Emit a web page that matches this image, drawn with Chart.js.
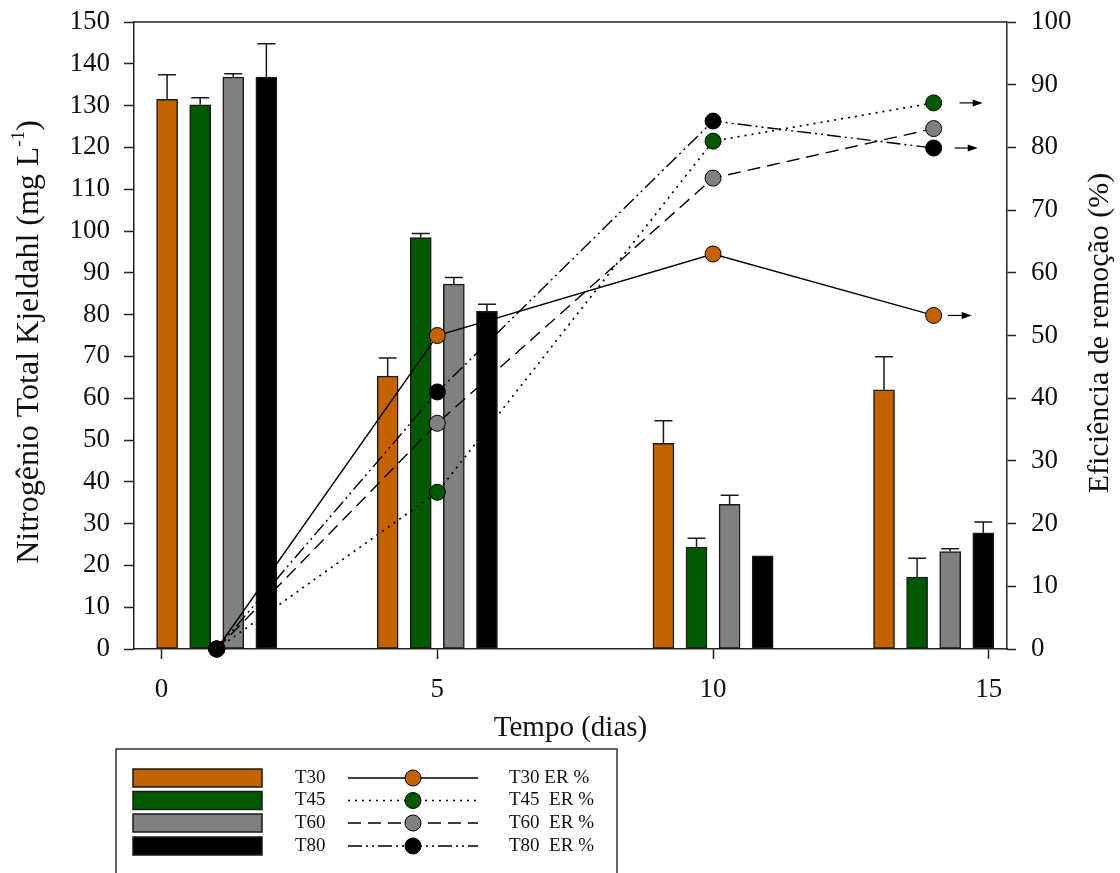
<!DOCTYPE html>
<html>
<head>
<meta charset="utf-8">
<script src="https://cdn.jsdelivr.net/npm/chart.js@4.4.0/dist/chart.umd.min.js"></script>
<style>
  html, body { margin: 0; padding: 0; background: #fff; }
  #wrap { width: 1120px; height: 873px; }
</style>
</head>
<body>
<div id="wrap"><canvas id="chart" width="1120" height="873"></canvas></div>
<script>
const FONT = "'Liberation Serif', 'Times New Roman', serif";

const series = ['T30', 'T45', 'T60', 'T80'];
const fillColors = ['#c46200', '#005800', '#808080', '#000000'];
const dashes = [[], [2, 5], [13, 7], [14, 4, 2, 4, 2, 4]];

// bar positions on the time axis
const barXT30 = [0.1, 4.1, 9.1, 13.1];
const barXT45 = [0.7, 4.7, 9.7, 13.7];
const barXT60 = [1.3, 5.3, 10.3, 14.3];
const barXT80 = [1.9, 5.9, 10.9, 14.9];

// NTK (mg/L) and error
const ntkT30 = [131.5, 65.3, 49.2, 62.0];
const ntkT45 = [130.2, 98.4, 24.4, 17.2];
const ntkT60 = [136.8, 87.3, 34.6, 23.3];
const ntkT80 = [136.8, 80.8, 22.3, 27.8];
const errT30 = [5.9, 4.3, 5.4, 7.9];
const errT45 = [1.7, 1.0, 2.1, 4.5];
const errT60 = [0.8, 1.6, 2.2, 0.7];
const errT80 = [8.0, 1.7, 0, 2.6];

// eficiencia de remocao (%)
const erDays = [1, 5, 10, 14];
const erT30 = [0, 50.0, 63.0, 53.2];
const erT45 = [0, 25.0, 81.0, 87.1];
const erT60 = [0, 36.0, 75.1, 83.0];
const erT80 = [0, 41.0, 84.2, 79.9];

// arrows after the last points
const arrowY = [87.1, 79.9, 53.2];
const arrowFrom = [14.47, 14.38, 14.26];
const arrowTo = [14.89, 14.8, 14.69];

const xTicks = [0, 5, 10, 15];

const barX = [barXT30, barXT45, barXT60, barXT80];
const ntk = [ntkT30, ntkT45, ntkT60, ntkT80];
const errs = [errT30, errT45, errT60, errT80];
const er = [erT30, erT45, erT60, erT80];

const datasets = [];
series.forEach((s, i) => {
  datasets.push({
    type: 'bar',
    label: s,
    data: barX[i].map((x, j) => ({ x: x, y: ntk[i][j] })),
    errors: errs[i],
    backgroundColor: fillColors[i],
    borderColor: '#1a1a1a',
    borderWidth: 1.5,
    borderSkipped: false,
    barThickness: 21,
    grouped: false,
    yAxisID: 'y',
    order: 10
  });
});
series.forEach((s, i) => {
  datasets.push({
    type: 'line',
    label: s + ' ER %',
    data: erDays.map((x, j) => ({ x: x, y: er[i][j] })),
    borderColor: '#000',
    borderWidth: i === 1 ? 1.7 : 1.4,
    borderDash: dashes[i],
    pointRadius: 8,
    pointBackgroundColor: fillColors[i],
    pointBorderColor: '#000',
    pointBorderWidth: 1,
    fill: false,
    tension: 0,
    clip: false,
    yAxisID: 'y2',
    order: 4 - i
  });
});

const errorBars = {
  id: 'errorBars',
  afterDatasetDraw(chart, args) {
    const ds = chart.data.datasets[args.index];
    if (ds.type !== 'bar') return;
    const ctx = chart.ctx;
    const y = chart.scales.y;
    ctx.save();
    ctx.strokeStyle = '#1a1a1a';
    ctx.lineWidth = 1.5;
    args.meta.data.forEach((bar, j) => {
      const e = ds.errors[j];
      if (!e) return;
      const top = y.getPixelForValue(ds.data[j].y + e);
      ctx.beginPath();
      ctx.moveTo(bar.x, bar.y);
      ctx.lineTo(bar.x, top);
      ctx.moveTo(bar.x - 9, top);
      ctx.lineTo(bar.x + 9, top);
      ctx.stroke();
    });
    ctx.restore();
  }
};

const extras = {
  id: 'extras',
  afterDatasetsDraw(chart) {
    const ctx = chart.ctx;
    const xs = chart.scales.x, y2 = chart.scales.y2;
    const a = chart.chartArea;
    ctx.save();
    // top frame line
    ctx.strokeStyle = '#222';
    ctx.lineWidth = 1.5;
    ctx.beginPath();
    ctx.moveTo(a.left, a.top);
    ctx.lineTo(a.right, a.top);
    ctx.stroke();
    // arrows
    ctx.fillStyle = '#000';
    ctx.strokeStyle = '#000';
    ctx.lineWidth = 1.2;
    arrowY.forEach((v, k) => {
      const py = y2.getPixelForValue(v);
      const x0 = xs.getPixelForValue(arrowFrom[k]);
      const x1 = xs.getPixelForValue(arrowTo[k]);
      ctx.beginPath();
      ctx.moveTo(x0, py);
      ctx.lineTo(x1 - 8, py);
      ctx.stroke();
      ctx.beginPath();
      ctx.moveTo(x1, py);
      ctx.lineTo(x1 - 10, py - 3.5);
      ctx.lineTo(x1 - 10, py + 3.5);
      ctx.closePath();
      ctx.fill();
    });
    ctx.restore();
  },
  afterDraw(chart) {
    const ctx = chart.ctx;
    ctx.save();
    ctx.fillStyle = '#111';
    ctx.textBaseline = 'middle';
    // left title with superscript
    ctx.font = '32px ' + FONT;
    const p1 = 'Nitrogênio Total Kjeldahl (mg L';
    const p3 = ')';
    const w1 = ctx.measureText(p1).width;
    const w3 = ctx.measureText(p3).width;
    ctx.font = '19px ' + FONT;
    const w2 = ctx.measureText('-1').width;
    const total = w1 + w2 + w3;
    ctx.translate(30, 342);
    ctx.rotate(-Math.PI / 2);
    ctx.textAlign = 'left';
    ctx.font = '32px ' + FONT;
    ctx.fillText(p1, -total / 2, 0);
    ctx.font = '19px ' + FONT;
    ctx.fillText('-1', -total / 2 + w1, -11);
    ctx.font = '32px ' + FONT;
    ctx.fillText(p3, -total / 2 + w1 + w2, 0);
    ctx.setTransform(1, 0, 0, 1, 0, 0);
    // right title
    ctx.translate(1100, 333);
    ctx.rotate(-Math.PI / 2);
    ctx.textAlign = 'center';
    ctx.font = '30px ' + FONT;
    ctx.fillText('Eficiência de remoção (%)', 0, 0);
    ctx.setTransform(1, 0, 0, 1, 0, 0);

    // legend box
    ctx.strokeStyle = '#333';
    ctx.lineWidth = 1.5;
    ctx.strokeRect(116, 749, 501, 140);
    const rows = [778, 800.5, 823, 846];
    ctx.font = '19px ' + FONT;
    ctx.textAlign = 'left';
    series.forEach((s, i) => {
      const ry = rows[i];
      ctx.fillStyle = fillColors[i];
      ctx.fillRect(133, ry - 9, 129, 18);
      ctx.strokeStyle = '#1a1a1a';
      ctx.lineWidth = 1.5;
      ctx.strokeRect(133, ry - 9, 129, 18);
      ctx.fillStyle = '#111';
      ctx.fillText(s, 295, ry);
      ctx.fillText(i === 0 ? s + ' ER %' : s + '  ER %', 509, ry);
      ctx.strokeStyle = '#000';
      ctx.lineWidth = i === 1 ? 1.7 : 1.4;
      ctx.setLineDash(dashes[i]);
      ctx.beginPath();
      ctx.moveTo(348, ry);
      ctx.lineTo(478, ry);
      ctx.stroke();
      ctx.setLineDash([]);
      ctx.beginPath();
      ctx.arc(413, ry, 8, 0, Math.PI * 2);
      ctx.fillStyle = fillColors[i];
      ctx.fill();
      ctx.lineWidth = 1;
      ctx.stroke();
    });
    ctx.restore();
  }
};

const tickFont = { family: FONT, size: 27 };

function fixVertical(width) {
  return s => {
    s.width = width;
    s.paddingTop = 0;
    s.paddingBottom = 0;
  };
}

new Chart(document.getElementById('chart'), {
  type: 'bar',
  data: { datasets: datasets },
  plugins: [errorBars, extras],
  options: {
    responsive: false,
    animation: false,
    devicePixelRatio: 1,
    layout: { padding: { left: 0, right: 0, top: 22, bottom: 124 } },
    plugins: { legend: { display: false }, tooltip: { enabled: false } },
    scales: {
      x: {
        type: 'linear',
        min: -0.5,
        max: 15.33,
        offset: false,
        afterBuildTicks: s => { s.ticks = xTicks.map(v => ({ value: v })); },
        afterFit: s => { s.height = 100; s.paddingLeft = 0; s.paddingRight = 0; },
        grid: { drawOnChartArea: false, offset: false, tickLength: 10, tickColor: '#222', tickWidth: 1.5 },
        border: { color: '#222', width: 1.5 },
        ticks: { font: tickFont, color: '#111', padding: 15, maxRotation: 0 },
        title: { display: true, text: 'Tempo (dias)', font: { family: FONT, size: 29 }, color: '#111', padding: { top: 0, bottom: 3 } }
      },
      y: {
        position: 'left',
        min: 0,
        max: 150,
        afterFit: fixVertical(134),
        grid: { drawOnChartArea: false, tickLength: 10, tickColor: '#222', tickWidth: 1.5 },
        border: { color: '#222', width: 1.5 },
        ticks: { stepSize: 10, font: tickFont, color: '#111', padding: 14 }
      },
      y2: {
        position: 'right',
        min: 0,
        max: 100,
        afterFit: fixVertical(113),
        grid: { drawOnChartArea: false, tickLength: 9, tickColor: '#222', tickWidth: 1.5 },
        border: { color: '#222', width: 1.5 },
        ticks: { stepSize: 10, font: tickFont, color: '#111', padding: 15 }
      }
    }
  }
});
</script>
</body>
</html>
